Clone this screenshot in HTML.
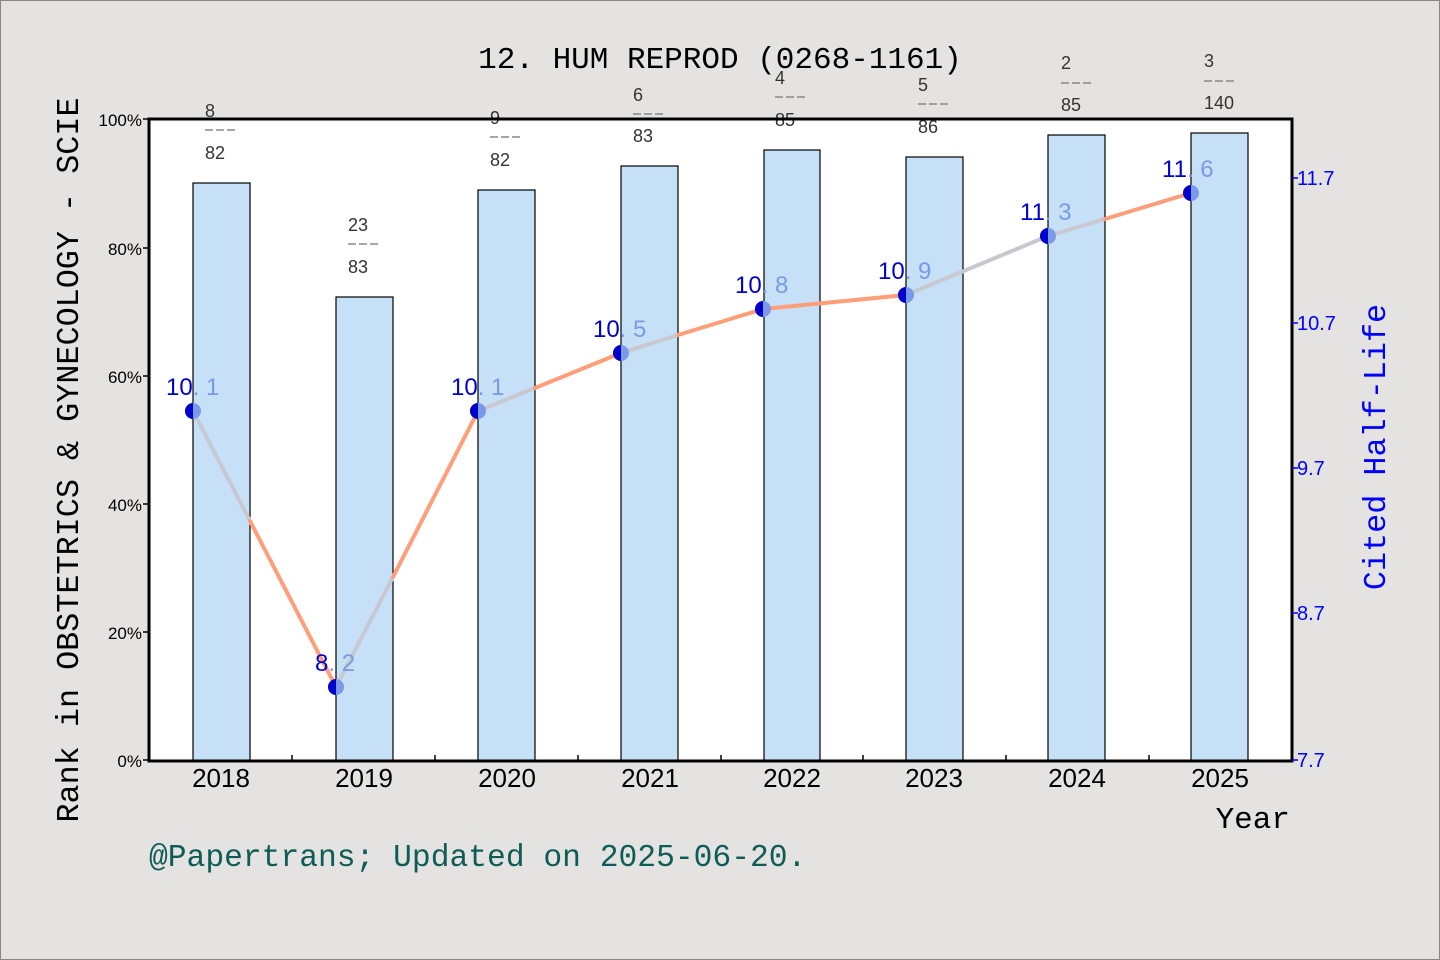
<!DOCTYPE html>
<html><head><meta charset="utf-8"><style>
html,body{margin:0;padding:0;background:#e4e3e2}
svg{display:block}
text{font-family:"Liberation Sans","DejaVu Sans",sans-serif}
.m{font-family:"Liberation Mono","DejaVu Sans Mono",monospace}
</style></head><body>
<svg width="1440" height="960" viewBox="0 0 1440 960" xmlns="http://www.w3.org/2000/svg">
<rect x="0.5" y="0.5" width="1439" height="959" fill="#e4e3e2" stroke="#888"/>
<rect x="149" y="119" width="1143" height="642" fill="#fff"/>
<text x="720" y="68" text-anchor="middle" font-size="31" class="m" fill="#000">12. HUM REPROD (0268-1161)</text>
<g fill="#c5e0f7" stroke="#000" stroke-width="1.2">
<rect x="193" y="183" width="57" height="578"/>
<rect x="336" y="297" width="57" height="464"/>
<rect x="478" y="190" width="57" height="571"/>
<rect x="621" y="166" width="57" height="595"/>
<rect x="764" y="150" width="56" height="611"/>
<rect x="906" y="157" width="57" height="604"/>
<rect x="1048" y="135" width="57" height="626"/>
<rect x="1191" y="133" width="57" height="628"/>
</g>
<g stroke-width="4" fill="none" stroke-linecap="round">
<path d="M193 411 L250 521" stroke="#c8c8d0"/><path d="M250 521 L336 687" stroke="#ff9f7a"/>
<path d="M336 687 L393 577" stroke="#c8c8d0"/><path d="M393 577 L478 411" stroke="#ff9f7a"/>
<path d="M478 411 L535 388" stroke="#c8c8d0"/><path d="M535 388 L621 353" stroke="#ff9f7a"/>
<path d="M621 353 L678 335" stroke="#c8c8d0"/><path d="M678 335 L763 309" stroke="#ff9f7a"/>
<path d="M763 309 L906 295" stroke="#ff9f7a"/>
<path d="M906 295 L1048 236" stroke="#c8c8d0"/>
<path d="M1048 236 L1105 219" stroke="#c8c8d0"/><path d="M1105 219 L1191 193" stroke="#ff9f7a"/>
</g>
<g>
<g transform="translate(193,411)"><circle r="8" fill="#7a9ae8"/><path d="M0 -8 A8 8 0 0 0 0 8Z" fill="#0000cc"/></g>
<g transform="translate(336,687)"><circle r="8" fill="#7a9ae8"/><path d="M0 -8 A8 8 0 0 0 0 8Z" fill="#0000cc"/></g>
<g transform="translate(478,411)"><circle r="8" fill="#7a9ae8"/><path d="M0 -8 A8 8 0 0 0 0 8Z" fill="#0000cc"/></g>
<g transform="translate(621,353)"><circle r="8" fill="#7a9ae8"/><path d="M0 -8 A8 8 0 0 0 0 8Z" fill="#0000cc"/></g>
<g transform="translate(763,309)"><circle r="8" fill="#7a9ae8"/><path d="M0 -8 A8 8 0 0 0 0 8Z" fill="#0000cc"/></g>
<g transform="translate(906,295)"><circle r="8" fill="#7a9ae8"/><path d="M0 -8 A8 8 0 0 0 0 8Z" fill="#0000cc"/></g>
<g transform="translate(1048,236)"><circle r="8" fill="#7a9ae8"/><path d="M0 -8 A8 8 0 0 0 0 8Z" fill="#0000cc"/></g>
<g transform="translate(1191,193)"><circle r="8" fill="#7a9ae8"/><path d="M0 -8 A8 8 0 0 0 0 8Z" fill="#0000cc"/></g>
</g>
<g font-size="24" class="m">
<text x="166" y="395" fill="#0000cc">10<tspan fill="#7a9ae8">. 1</tspan></text>
<text x="315" y="671" fill="#0000cc">8<tspan fill="#7a9ae8">. 2</tspan></text>
<text x="451" y="395" fill="#0000cc">10<tspan fill="#7a9ae8">. 1</tspan></text>
<text x="593" y="337" fill="#0000cc">10<tspan fill="#7a9ae8">. 5</tspan></text>
<text x="735" y="293" fill="#0000cc">10<tspan fill="#7a9ae8">. 8</tspan></text>
<text x="878" y="279" fill="#0000cc">10<tspan fill="#7a9ae8">. 9</tspan></text>
<text x="1020" y="220" fill="#0000cc">11<tspan fill="#7a9ae8">. 3</tspan></text>
<text x="1162" y="177" fill="#0000cc">11<tspan fill="#7a9ae8">. 6</tspan></text>
</g>
<g stroke="#888" stroke-width="1.5" stroke-dasharray="8,3">
<path d="M205 130h33M348 244h33M490 137h33M633 114h33M775 97h33M918 104h33M1061 83h33M1204 81h33"/>
</g>
<g font-size="18" fill="#333">
<text x="205" y="117">8</text><text x="205" y="159">82</text>
<text x="348" y="231">23</text><text x="348" y="273">83</text>
<text x="490" y="124">9</text><text x="490" y="166">82</text>
<text x="633" y="101">6</text><text x="633" y="142">83</text>
<text x="775" y="84">4</text><text x="775" y="126">85</text>
<text x="918" y="91">5</text><text x="918" y="133">86</text>
<text x="1061" y="69">2</text><text x="1061" y="111">85</text>
<text x="1204" y="67">3</text><text x="1204" y="109">140</text>
</g>
<rect x="149" y="119" width="1143" height="642" fill="none" stroke="#000" stroke-width="3"/>
<g stroke="#000" stroke-width="1.5">
<path d="M143 119H149M143 248H149M143 376H149M143 504H149M143 632H149M143 760H149"/>
<path d="M292 761V755M435 761V755M578 761V755M721 761V755M863 761V755M1006 761V755M1149 761V755"/>
</g>
<g stroke="#0000ff" stroke-width="1.5"><path d="M1292 178H1298M1292 323H1298M1292 468H1298M1292 613H1298M1292 760H1298"/></g>
<g font-size="17" text-anchor="end" fill="#000">
<text x="142" y="126">100%</text><text x="142" y="255">80%</text><text x="142" y="383">60%</text>
<text x="142" y="511">40%</text><text x="142" y="639">20%</text><text x="142" y="767">0%</text>
</g>
<g font-size="20" fill="#0000ff" class="m">
<text x="1297" y="185">11.7</text><text x="1297" y="330">10.7</text><text x="1297" y="475">9.7</text>
<text x="1297" y="620">8.7</text><text x="1297" y="767">7.7</text>
</g>
<g font-size="26" text-anchor="middle" fill="#000">
<text x="221" y="787">2018</text><text x="364" y="787">2019</text><text x="507" y="787">2020</text>
<text x="650" y="787">2021</text><text x="792" y="787">2022</text><text x="934" y="787">2023</text>
<text x="1077" y="787">2024</text><text x="1220" y="787">2025</text>
</g>
<text x="1290" y="828" text-anchor="end" font-size="31" class="m" fill="#000">Year</text>
<text transform="translate(78,460) rotate(-90)" text-anchor="middle" font-size="31.8" class="m" fill="#000">Rank in OBSTETRICS &amp; GYNECOLOGY - SCIE</text>
<text transform="translate(1385,447) rotate(-90)" text-anchor="middle" font-size="31.8" class="m" fill="#0000ff">Cited Half-Life</text>
<text x="149" y="866" font-size="31.3" class="m" fill="#0d5c55">@Papertrans; Updated on 2025-06-20.</text>
</svg>
</body></html>
